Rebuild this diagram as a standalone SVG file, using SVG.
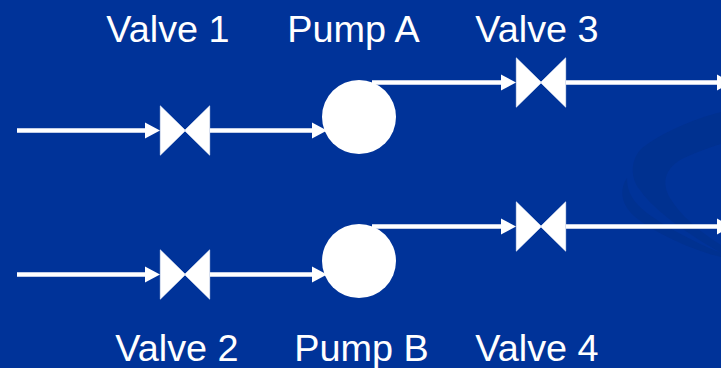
<svg xmlns="http://www.w3.org/2000/svg" width="721" height="368" viewBox="0 0 721 368">
<style>
text{font-family:"Liberation Sans",Arial,sans-serif;font-size:37.800px;fill:#fff;text-anchor:middle}
.l{stroke:#fff;stroke-width:4.500;fill:none}
.a{fill:#fff}
.v{fill:#fff;stroke:#fff;stroke-width:.6}
.p{fill:#fff}
</style>
<defs>
<path id="vv" d="M-24.700 -24.700L0.500 0L-24.700 24.700ZM24.700 -24.700L-0.500 0L24.700 24.700Z"/>
<polygon id="ah" points="-15,-8 0,0 -15,8"/>
</defs>
<rect width="721" height="368" fill="#003399"/>
<path d="M721 112C690 120 660 134 642 148C630 160 630 178 640 190C655 212 690 235 721 253L721 245C700 232 680 215 670 198C662 184 664 170 680 160C692 154 708 148 721 144Z" fill="#003190"/>
<path d="M627 178C619 190 621 204 634 216C650 230 690 250 721 257L721 253C690 240 655 222 638 205C630 196 627 188 627 178Z" fill="#003190"/>
<g id="connectors">
<path class="l" d="M17 130.500H146M210 130.500H314M372 82.500H502M566 82.500H718M17 274.500H146M210 274.500H314M372 226.500H502M566 226.500H718"/>
<use href="#ah" class="a" x="160" y="130.500"/><use href="#ah" class="a" x="327" y="130.500"/>
<use href="#ah" class="a" x="516" y="82.500"/><use href="#ah" class="a" x="732" y="82.500"/>
<use href="#ah" class="a" x="160" y="274.500"/><use href="#ah" class="a" x="327" y="274.500"/>
<use href="#ah" class="a" x="516" y="226.500"/><use href="#ah" class="a" x="732" y="226.500"/>
</g>
<g id="valve1"><use href="#vv" class="v" x="185" y="130.500"/><text x="168" y="42">Valve 1</text></g>
<g id="valve2"><use href="#vv" class="v" x="185" y="274.500"/><text x="177" y="361">Valve 2</text></g>
<g id="valve3"><use href="#vv" class="v" x="541" y="82.500"/><text x="537" y="42">Valve 3</text></g>
<g id="valve4"><use href="#vv" class="v" x="541" y="226.500"/><text x="537" y="361">Valve 4</text></g>
<g id="pumpA"><circle class="p" cx="359" cy="117" r="37"/><text x="353.500" y="42">Pump A</text></g>
<g id="pumpB"><circle class="p" cx="359" cy="261" r="37"/><text x="361.500" y="361">Pump B</text></g>
</svg>
